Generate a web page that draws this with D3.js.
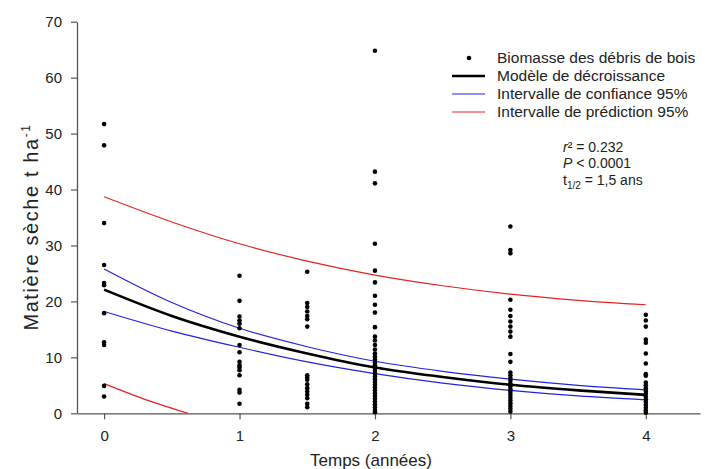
<!DOCTYPE html>
<html>
<head>
<meta charset="utf-8">
<script src="https://cdn.jsdelivr.net/npm/d3@7"></script>
<style>
  html, body { margin: 0; padding: 0; background: #fff; }
  svg { display: block; font-family: "Liberation Sans", Arial, sans-serif; }
</style>
</head>
<body>
<svg id="chart" width="705" height="469"></svg>
<script>
// ---- Data ----
const xTicks = [0, 1, 2, 3, 4];
const yTicks = [0, 10, 20, 30, 40, 50, 60, 70];

// observed biomass, grouped by sampling time (years)
const obsTimes = [0, 1, 1.5, 2, 3, 4];
const obs0 = [51.7, 47.9, 34.0, 26.5, 23.3, 22.9, 17.9, 12.7, 12.2, 4.9, 3.0];
const obs1 = [24.6, 20.1, 17.3, 16.6, 16.0, 15.2, 12.2, 10.9, 9.2, 8.6, 8.2, 7.7, 6.8, 4.2, 3.7, 1.7];
const obs15 = [25.3, 19.7, 19.0, 18.2, 17.4, 16.8, 15.5, 6.8, 6.4, 6.0, 5.2, 4.5, 3.9, 3.3, 2.7, 1.7, 1.1];
const obs2 = [64.8, 43.2, 41.1, 30.3, 25.5, 23.4, 21.0, 19.4, 18.0, 15.4, 13.7, 13.0, 12.2, 11.4, 10.7,
              10.1, 9.6, 9.1, 8.6, 8.1, 7.6, 7.1, 6.6, 6.1, 5.6, 5.1, 4.6, 4.1, 3.6, 3.1, 2.6, 2.1, 1.6, 1.1, 0.6, 0.2];
const obs3 = [33.4, 29.2, 28.6, 20.3, 18.5, 17.4, 16.4, 15.5, 14.6, 13.7, 10.6, 9.2, 7.3, 6.8, 6.3, 5.8,
              5.3, 4.8, 4.3, 3.8, 3.3, 2.8, 2.3, 1.8, 1.3, 0.8, 0.3];
const obs4 = [17.6, 16.6, 15.5, 13.2, 12.6, 10.7, 8.9, 7.0, 6.7, 5.5, 5.0, 4.5, 4.0, 3.5, 3.0, 2.5, 2.0, 1.5, 1.0, 0.5, 0.1];
const obsGroups = [obs0, obs1, obs15, obs2, obs3, obs4];

// fitted curves sampled at these times
const curveT = [0, 0.5, 1, 1.5, 2, 2.5, 3, 3.5, 4];
const model   = [22.1, 17.4, 13.7, 10.7, 8.2, 6.5, 5.1, 4.1, 3.3];
const ciUpper = [25.8, 19.8, 15.2, 11.9, 9.3, 7.5, 6.1, 5.0, 4.2];
const ciLower = [18.2, 14.7, 11.8, 9.2, 7.1, 5.4, 4.1, 3.1, 2.4];
const piUpper = [38.7, 34.2, 30.3, 27.2, 24.7, 22.8, 21.3, 20.2, 19.4];
const piLowT  = [0, 0.3, 0.62];
const piLower = [5.3, 2.5, 0];

const legendLabels = ["Biomasse des débris de bois", "Modèle de décroissance",
                      "Intervalle de confiance 95%", "Intervalle de prédiction 95%"];

// ---- Drawing ----
const svg = d3.select("#chart");
const x = d3.scaleLinear().domain([-0.2, 4.4]).range([77, 700]);
const y = d3.scaleLinear().domain([0, 70]).range([413.3, 21.7]);

const axisCol = "#555";
const textCol = "#222";

// axes
const gx = svg.append("g").attr("transform", `translate(0,${y(0)})`)
  .call(d3.axisBottom(x).tickValues(xTicks).tickFormat(d3.format("d"))
        .tickSize(6).tickSizeOuter(0).tickPadding(11));
const gy = svg.append("g").attr("transform", `translate(${x(-0.2)},0)`)
  .call(d3.axisLeft(y).tickValues(yTicks).tickSize(6).tickSizeOuter(0).tickPadding(9));
[gx, gy].forEach(g => {
  g.select(".domain").attr("stroke", axisCol).attr("stroke-width", 1.3);
  g.selectAll(".tick line").attr("stroke", axisCol).attr("stroke-width", 1.2);
  g.selectAll(".tick text").attr("fill", textCol).style("font-size", "15px")
    .style("font-family", "'Liberation Sans', Arial, sans-serif");
});

// axis titles
svg.append("text").attr("x", 371).attr("y", 466).attr("text-anchor", "middle")
  .attr("fill", textCol).style("font-size", "17px").text("Temps (années)");
const yl = svg.append("text").attr("transform", "translate(38,227) rotate(-90)")
  .attr("text-anchor", "middle").attr("fill", textCol).style("font-size", "20px")
  .style("letter-spacing", "1.6px");
yl.append("tspan").text("Matière sèche t ha");
yl.append("tspan").attr("dy", -8).style("font-size", "12px").text("-1");

// curves
const line = d3.line().x(d => x(d[0])).y(d => y(d[1])).curve(d3.curveMonotoneX);
const zip = (ts, vs) => ts.map((t, i) => [t, vs[i]]);
svg.append("path").attr("d", line(zip(curveT, piUpper))).attr("fill", "none").attr("stroke", "#e32222").attr("stroke-width", 1.2);
svg.append("path").attr("d", line(zip(piLowT, piLower))).attr("fill", "none").attr("stroke", "#e32222").attr("stroke-width", 1.2);
svg.append("path").attr("d", line(zip(curveT, ciUpper))).attr("fill", "none").attr("stroke", "#2222dd").attr("stroke-width", 1.2);
svg.append("path").attr("d", line(zip(curveT, ciLower))).attr("fill", "none").attr("stroke", "#2222dd").attr("stroke-width", 1.2);
svg.append("path").attr("d", line(zip(curveT, model))).attr("fill", "none").attr("stroke", "#000").attr("stroke-width", 2.6);

// points
const pts = [];
obsGroups.forEach((g, i) => g.forEach(v => pts.push([obsTimes[i], v])));
svg.append("g").selectAll("circle").data(pts).join("circle")
  .attr("cx", d => x(d[0])).attr("cy", d => y(d[1])).attr("r", 2.3).attr("fill", "#000");

// legend
const lg = svg.append("g").style("font-size", "15.5px");
const rowY = [58, 76, 94, 112];
legendLabels.forEach((lab, i) => {
  if (i === 0) {
    lg.append("circle").attr("cx", 469).attr("cy", rowY[i]).attr("r", 2.3).attr("fill", "#000");
  } else {
    const col = ["#000", "#2222dd", "#e32222"][i - 1];
    lg.append("line").attr("x1", 452).attr("x2", 485).attr("y1", rowY[i]).attr("y2", rowY[i])
      .attr("stroke", col).attr("stroke-width", i === 1 ? 2.6 : 1.2);
  }
  lg.append("text").attr("x", 497).attr("y", rowY[i]).attr("dy", "0.35em").attr("fill", textCol).text(lab);
});

// statistics annotation
const ann = svg.append("g").style("font-size", "14px").attr("fill", textCol);
const a1 = ann.append("text").attr("x", 563).attr("y", 152);
a1.append("tspan").style("font-style", "italic").text("r");
a1.append("tspan").text("² = 0.232");
const a2 = ann.append("text").attr("x", 563).attr("y", 168);
a2.append("tspan").style("font-style", "italic").text("P");
a2.append("tspan").text(" < 0.0001");
const a3 = ann.append("text").attr("x", 563).attr("y", 185);
a3.append("tspan").text("t");
a3.append("tspan").attr("dy", 4).style("font-size", "10px").text("1/2");
a3.append("tspan").attr("dy", -4).text(" = 1,5 ans");
</script>
</body>
</html>
